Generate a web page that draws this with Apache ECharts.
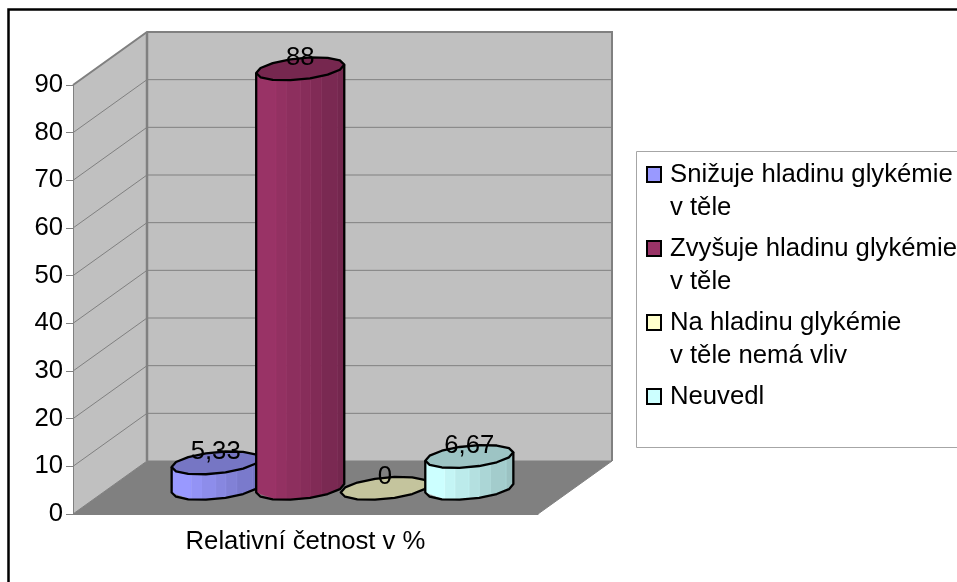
<!DOCTYPE html>
<html>
<head>
<meta charset="utf-8">
<style>html,body{margin:0;padding:0;background:#fff}#chart{width:957px;height:582px}</style>
<script src="https://cdn.jsdelivr.net/npm/echarts@6/dist/echarts.min.js"></script>
</head>
<body>
<div id="chart"></div>
<script>
const category = ['Relativní četnost v %'];
const seriesNames = [
  'Snižuje hladinu glykémie\nv těle',
  'Zvyšuje hladinu glykémie\nv těle',
  'Na hladinu glykémie\nv těle nemá vliv',
  'Neuvedl'
];
const seriesValues = [5.33, 88, 0, 6.67];
const seriesColors = ['#9999FF', '#993366', '#FFFFCC', '#CCFFFF'];
const axisTicks = [0, 10, 20, 30, 40, 50, 60, 70, 80, 90];

// Oblique projection of the chart box: how far the back plane shifts from the front plane.
const DEPTH = [74, -53];
const GRAY = '#808080';
const FONT = '"Liberation Sans", Arial, sans-serif';
const FONT_SIZE = 25.7;

// Where the facet edges fall across a cylinder's visible width (-1 left, 1 right).
const FACET_STOPS = [-1, -0.55, -0.32, 0, 0.23, 0.48, 0.84, 1];
// Number of corners on a cylinder's rim.
const RIM_CORNERS = 14;

function shade(hex, f) {
  const n = parseInt(hex.slice(1), 16);
  const c = [n >> 16 & 255, n >> 8 & 255, n & 255].map(v => Math.round(v * f));
  return 'rgb(' + c.join(',') + ')';
}

// Back wall, side wall, floor and the gridlines that wrap around them.
function renderBox(params, api) {
  const band = api.size([1, 0])[0];
  const x0 = api.coord([0, 0])[0] - band / 2;
  const x1 = x0 + band;
  const y = v => api.coord([0, v])[1];
  const yMax = axisTicks[axisTicks.length - 1];
  const [dx, dy] = DEPTH;
  const poly = (points, fill) => ({
    type: 'polygon', shape: { points },
    style: { fill, stroke: fill === GRAY ? GRAY : 'none', lineWidth: 1 }
  });
  const children = [
    poly([[x0 + dx, y(yMax) + dy], [x1 + dx, y(yMax) + dy], [x1 + dx, y(0) + dy], [x0 + dx, y(0) + dy]], '#C0C0C0'),
    poly([[x0, y(yMax)], [x0 + dx, y(yMax) + dy], [x0 + dx, y(0) + dy], [x0, y(0)]], '#C0C0C0'),
    poly([[x0, y(0)], [x1, y(0)], [x1 + dx, y(0) + dy], [x0 + dx, y(0) + dy]], GRAY)
  ];
  axisTicks.slice(1, -1).forEach(v => {
    children.push({
      type: 'polyline',
      shape: { points: [[x0, y(v)], [x0 + dx, y(v) + dy], [x1 + dx, y(v) + dy]] },
      style: { fill: 'none', stroke: GRAY, lineWidth: 1 }
    });
  });
  // Heavier edges of the walls
  children.push({
    type: 'polyline',
    shape: { points: [[x0, y(yMax)], [x0 + dx, y(yMax) + dy], [x1 + dx, y(yMax) + dy], [x1 + dx, y(0) + dy]] },
    style: { fill: 'none', stroke: GRAY, lineWidth: 2 }
  });
  children.push({
    type: 'polyline',
    shape: { points: [[x0 + dx, y(yMax) + dy], [x0 + dx, y(0) + dy]] },
    style: { fill: 'none', stroke: GRAY, lineWidth: 2.5 }
  });
  return { type: 'group', children };
}

// One faceted cylinder standing on the floor, half way back in the box.
function renderCylinder(index) {
  return function (params, api) {
    const value = api.value(1);
    const band = api.size([1, 0])[0];
    const slot = band / 5.5;
    const base = api.coord([0, 0]);
    const topY = api.coord([0, value])[1];
    const cx = base[0] + (index - 1.5) * slot + DEPTH[0] / 2;
    const yBase = base[1] + DEPTH[1] * 0.485;
    const yTop = topY + DEPTH[1] * 0.485;
    const R = slot * 0.485;
    const sx = DEPTH[0] * 0.217;
    const sy = DEPTH[1] * 0.217;
    const phi = Math.atan2(sx, R);
    const rim = (t, y) => [cx + R * Math.cos(t) + sx * Math.sin(t), y + sy * Math.sin(t)];
    const step = 2 * Math.PI / RIM_CORNERS;
    const frontAngles = [];
    for (let j = 0; j <= RIM_CORNERS / 2; j++) frontAngles.push(phi + Math.PI + j * step);
    const ring = y => {
      const pts = [];
      for (let j = 0; j < RIM_CORNERS; j++) pts.push(rim(phi + Math.PI + j * step, y));
      return pts;
    };
    const facetAngles = FACET_STOPS.map(f => phi + Math.PI + Math.acos(-f));
    const color = seriesColors[index];
    const children = [];
    if (value > 0) {
      const upper = facetAngles.map(t => rim(t, yTop));
      const lower = facetAngles.map(t => rim(t, yBase));
      for (let i = 0; i < upper.length - 1; i++) {
        const f = 1 - 0.24 * (i / (upper.length - 2));
        children.push({
          type: 'polygon',
          shape: { points: [upper[i], upper[i + 1], lower[i + 1], lower[i]] },
          style: { fill: shade(color, f), stroke: shade(color, Math.min(1.12, f + 0.08)), lineWidth: 0.6 }
        });
      }
      const bottom = frontAngles.map(t => rim(t, yBase));
      children.push({
        type: 'polyline',
        shape: { points: [rim(frontAngles[0], yTop)].concat(bottom, [rim(frontAngles[frontAngles.length - 1], yTop)]) },
        style: { fill: 'none', stroke: '#000', lineWidth: 2.3, lineJoin: 'round' }
      });
    }
    children.push({
      type: 'polygon',
      shape: { points: ring(yTop) },
      style: { fill: shade(color, 0.77), stroke: '#000', lineWidth: 2.3, lineJoin: 'round' }
    });
    children.push({
      type: 'text',
      style: {
        x: cx, y: yTop - 11,
        text: String(value).replace('.', ','),
        font: FONT_SIZE + 'px ' + FONT,
        fill: '#000', align: 'center', verticalAlign: 'middle'
      }
    });
    return { type: 'group', children };
  };
}

const chart = echarts.init(document.getElementById('chart'), null, { renderer: 'canvas' });

chart.setOption({
  animation: false,
  backgroundColor: '#fff',
  tooltip: { show: false },
  grid: { left: 73, top: 85, width: 465, height: 429 },
  xAxis: {
    type: 'category', data: category, z: 3,
    axisLine: { lineStyle: { color: GRAY, width: 1 } },
    axisTick: { length: 6, lineStyle: { color: GRAY } },
    axisLabel: { color: '#000', fontFamily: FONT, fontSize: FONT_SIZE, margin: 15 }
  },
  yAxis: {
    type: 'value', min: 0, max: 90, interval: 10, z: 3,
    splitLine: { show: false },
    axisLine: { show: true, lineStyle: { color: GRAY, width: 1 } },
    axisTick: { show: true, length: 7, lineStyle: { color: GRAY } },
    axisLabel: { color: '#000', fontFamily: FONT, fontSize: FONT_SIZE, margin: 10 }
  },
  legend: {
    orient: 'vertical', left: 646, top: 125, height: 560, padding: 0, itemGap: -25,
    itemWidth: 22, itemHeight: 15, icon: 'path://M0,0H14V15H0Z', selectedMode: false,
    // Blank lines keep each swatch level with the first line of its entry.
    formatter: name => name.includes('\n') ? '\n' + name : '\n' + name + '\n',
    textStyle: { color: '#000', fontFamily: FONT, fontSize: FONT_SIZE, lineHeight: 33 },
    data: seriesNames.map((name, i) => ({
      name,
      itemStyle: { color: seriesColors[i], borderColor: '#000', borderWidth: 2 }
    }))
  },
  graphic: [
    {
      type: 'polyline', silent: true,
      shape: { points: [[8.5, 582], [8.5, 9.5], [957, 9.5]] },
      style: { fill: 'none', stroke: '#000', lineWidth: 2.5 }
    },
    {
      type: 'polyline', silent: true,
      shape: { points: [[957, 151.5], [636.5, 151.5], [636.5, 447.5], [957, 447.5]] },
      style: { fill: 'none', stroke: '#A6A6A6', lineWidth: 1 }
    }
  ],
  series: [
    {
      type: 'custom', name: 'box', silent: true, z: 1,
      renderItem: renderBox, clip: false, data: [[0, 0]]
    }
  ].concat(seriesNames.map((name, i) => ({
    type: 'custom', name, silent: true, z: 4 + i, clip: false,
    itemStyle: { color: seriesColors[i] },
    encode: { x: 0, y: 1 },
    renderItem: renderCylinder(i),
    data: [[0, seriesValues[i]]]
  })))
});
</script>
</body>
</html>
